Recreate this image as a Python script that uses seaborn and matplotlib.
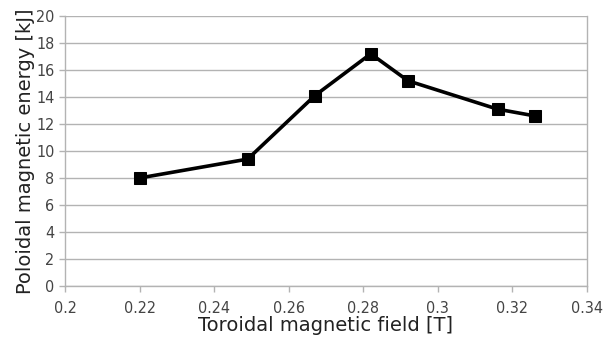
import matplotlib
matplotlib.use("Agg")
import matplotlib.pyplot as plt
import seaborn as sns
import pandas as pd

field_T = [0.22, 0.249, 0.267, 0.282, 0.292, 0.316, 0.326]
energy_kJ = [8.0, 9.4, 14.1, 17.2, 15.2, 13.1, 12.6]
x_ticks = [0.2, 0.22, 0.24, 0.26, 0.28, 0.3, 0.32, 0.34]
x_tick_labels = ["0.2", "0.22", "0.24", "0.26", "0.28", "0.3", "0.32", "0.34"]
y_ticks = [0, 2, 4, 6, 8, 10, 12, 14, 16, 18, 20]

df = pd.DataFrame({"field": field_T, "energy": energy_kJ})

sns.set_theme(style="white")
plt.rcParams["font.family"] = ["DejaVu Sans"]

fig = plt.figure(figsize=(6.12, 3.38), dpi=100)
ax = fig.add_axes([65 / 612, (338 - 286) / 338, (587 - 65) / 612, (286 - 16) / 338])

sns.lineplot(data=df, x="field", y="energy", ax=ax, color="black", linewidth=2.6,
             marker="s", markersize=8, markeredgecolor="black", markerfacecolor="black")

ax.set_xlim(0.2, 0.34)
ax.set_ylim(0, 20)
ax.set_xticks(x_ticks)
ax.set_xticklabels(x_tick_labels)
ax.set_yticks(y_ticks)
ax.yaxis.grid(True, color="#b3b3b3", linewidth=1.0)
ax.xaxis.grid(False)
ax.set_axisbelow(True)

for side in ["left", "bottom", "right"]:
    ax.spines[side].set_visible(True)
    ax.spines[side].set_color("#b3b3b3")
    ax.spines[side].set_linewidth(1.0)
ax.spines["top"].set_visible(False)

ax.tick_params(axis="both", which="major", direction="out", length=4.5, width=1,
               color="#b3b3b3", labelcolor="#444444", labelsize=11.5, pad=3,
               bottom=True, left=True)
ax.tick_params(axis="x", pad=6.5)
for lab in ax.get_xticklabels() + ax.get_yticklabels():
    lab.set_fontstretch("condensed")

ax.set_xlabel("Toroidal magnetic field [T]", fontsize=14, color="#222222", labelpad=0)
ax.set_ylabel("Poloidal magnetic energy [kJ]", fontsize=14, color="#222222", labelpad=1)

fig.savefig("out.png", dpi=100, facecolor="white")
